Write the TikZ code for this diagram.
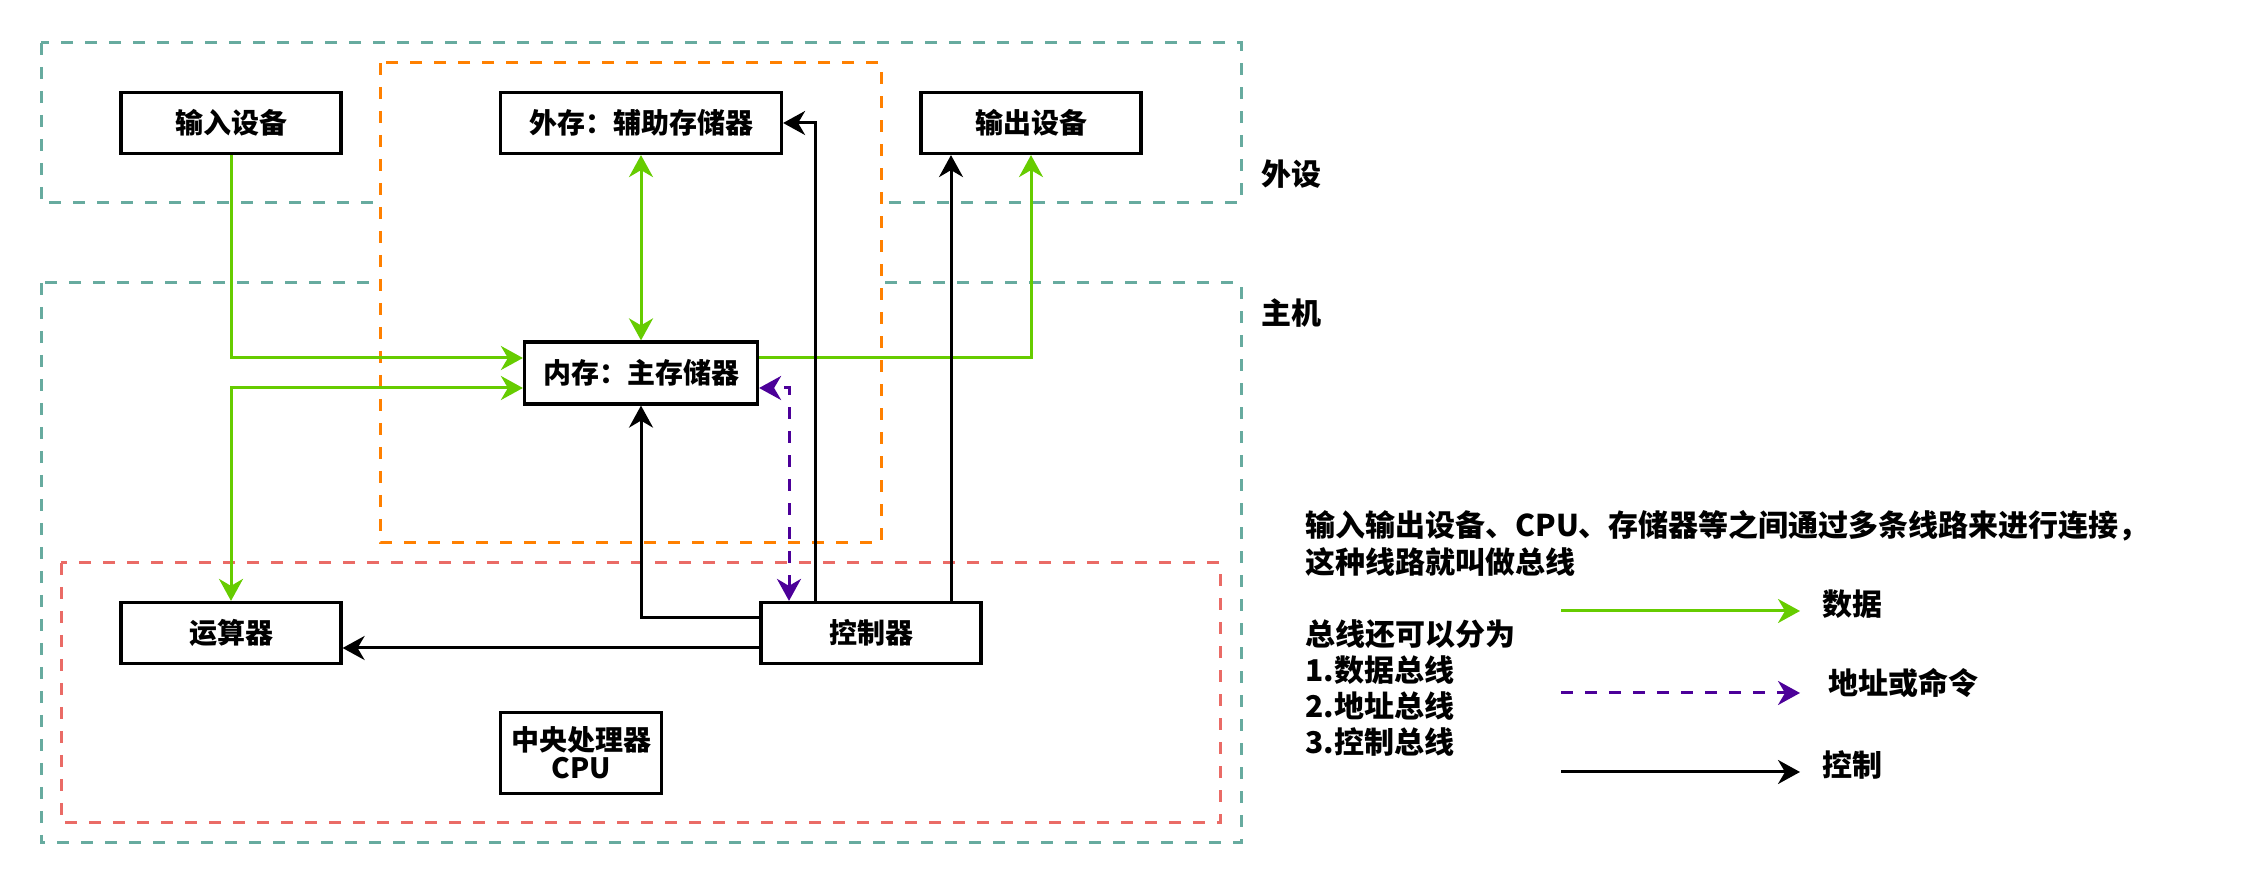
\documentclass[tikz,border=0pt]{standalone}
\usepackage{fontspec}
\setmainfont{Noto Sans CJK SC}
\usetikzlibrary{arrows.meta}
\definecolor{hostteal}{HTML}{67AB9F}
\definecolor{memorange}{HTML}{FF8000}
\definecolor{cpured}{HTML}{EA6B66}
\definecolor{datagreen}{HTML}{66CC00}
\definecolor{addrpurple}{HTML}{4C0099}

\begin{document}
\begin{tikzpicture}[x=0.5pt,y=-0.5pt,
  >={Stealth[length=11pt,width=12pt,inset=3.5pt]},
  unit/.style={draw, line width=1.6pt, fill=white, inner sep=0pt,
    minimum width=110pt, minimum height=30.5pt,
    font=\bfseries\fontsize{14}{16}\selectfont},
  area/.style={line width=1.5pt, dash pattern=on 6pt off 6pt},
  bus/.style={line width=1.5pt, ->},
  bibus/.style={line width=1.5pt, <->},
  databus/.style={datagreen},
  addrbus/.style={addrpurple, dash pattern=on 6pt off 6pt},
  note/.style={inner sep=0pt, anchor=west, align=left,
    font=\bfseries\fontsize{15}{18}\selectfont}
]
\useasboundingbox (0,0) rectangle (2244,886);

% dashed regions
\draw[area, hostteal] (41,43) rectangle (1241,203);
\draw[area, hostteal] (41,283) rectangle (1241,843);
\draw[area, memorange, fill=white] (380,63) rectangle (881,543);
\draw[area, cpured] (61,563) rectangle (1220,823);
\node[note, anchor=center] (periph) at (1291,174) {外设};
\node[note, anchor=center] (host) at (1291,313) {主机};

% units
\node[unit] (input) at (231,123) {输入设备};
\node[unit, minimum width=140.5pt] (disk) at (641,123) {外存：辅助存储器};
\node[unit] (output) at (1031,123) {输出设备};
\node[unit, minimum width=116.5pt, minimum height=31pt] (mem) at (641,373) {内存：主存储器};
\node[unit] (alu) at (231,633) {运算器};
\node[unit] (ctrl) at (871,633) {控制器};
\node[unit, minimum width=80.5pt, minimum height=40.5pt, align=center] (cpu) at (581,753) {中央处理器\\[-2pt]CPU};

% data bus
\draw[bus, databus] (input.south) |- ([yshift=7.5pt]mem.west);
\draw[bibus, databus] (alu.north) |- ([yshift=-7.5pt]mem.west);
\draw[bibus, databus] (disk.south) -- (mem.north);
\draw[bus, databus] ([yshift=7.5pt]mem.east) -| (output.south);

% address bus
\draw[bibus, addrbus] ([xshift=-41pt]ctrl.north) |- ([yshift=-7.5pt]mem.east);

% control bus
\draw[bus] ([xshift=-28pt]ctrl.north) |- (disk.east);
\draw[bus] ([xshift=40pt]ctrl.north) -- ([xshift=40pt]ctrl.north |- output.south);
\draw[bus] ([yshift=7.5pt]ctrl.west) -| (mem.south);
\draw[bus] ([yshift=-7.5pt]ctrl.west) -- ([yshift=-7.5pt]alu.east);

% legend
\node[note] (about) at (1305,543.5) {输入输出设备、CPU、存储器等之间通过多条线路来进行连接，\\[0.5pt]这种线路就叫做总线};
\node[note] (kinds) at (1305,688.5) {总线还可以分为\\1.数据总线\\2.地址总线\\3.控制总线};
\coordinate (dataA) at (1561,611);
\coordinate (dataB) at (1800,611);
\coordinate (addrA) at (1561,693);
\coordinate (addrB) at (1800,693);
\coordinate (ctrlA) at (1561,772);
\coordinate (ctrlB) at (1800,772);
\draw[bus, databus] (dataA) -- (dataB);
\draw[bus, addrbus] (addrA) -- (addrB);
\draw[bus] (ctrlA) -- (ctrlB);
\node[note] (datalabel) at (1822,604) {数据};
\node[note] (addrlabel) at (1828,683) {地址或命令};
\node[note] (ctrllabel) at (1822,765) {控制};
\end{tikzpicture}
\end{document}
